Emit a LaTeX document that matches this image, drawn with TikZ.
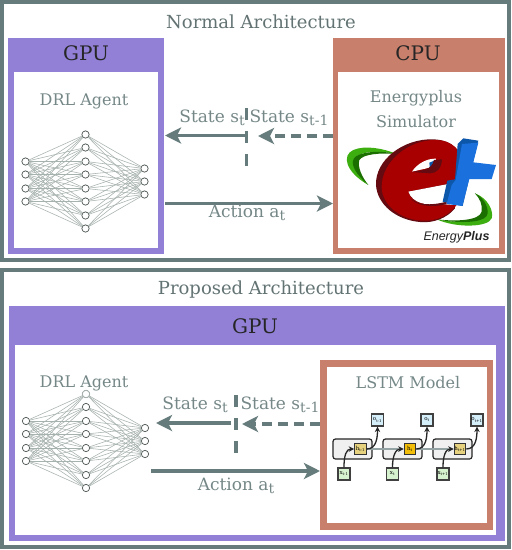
\documentclass[tikz,border=0pt]{standalone}
\usepackage{fontspec}
\setmainfont{DejaVu Serif}
\newfontfamily\lsans{Liberation Sans}
\usetikzlibrary{arrows.meta}
\definecolor{fr}{HTML}{667B7B}
\definecolor{txt}{HTML}{758787}
\definecolor{gpu}{HTML}{9180D6}
\definecolor{cpu}{HTML}{C87F6B}
\definecolor{edgec}{HTML}{A6B2AE}
\definecolor{nod}{HTML}{4A5450}
\definecolor{redf}{HTML}{A80000}
\definecolor{redd}{HTML}{640A10}
\definecolor{grl}{HTML}{3CAE10}
\definecolor{grd}{HTML}{1B6E00}
\definecolor{blf}{HTML}{1A70DC}
\definecolor{bld}{HTML}{0D57AB}
\definecolor{hy}{HTML}{E6D27E}
\definecolor{ho}{HTML}{F2BE0A}
\definecolor{ig}{HTML}{D6F2CE}
\definecolor{ob}{HTML}{D4EEFA}
\newcommand{\sub}[1]{\raisebox{-3pt}{\fontsize{14}{14}\selectfont #1}}
\tikzset{
 frame/.style={draw=fr,line width=4pt,fill=white},
 panel/.style={fill=#1},
 inner/.style={fill=white},
 ttl/.style={text=txt!85!black,font=\fontsize{18}{20}\selectfont,inner sep=0pt},
 lab/.style={text=txt,font=\fontsize{16}{18}\selectfont,inner sep=0pt},
 clab/.style={text=txt,font=\fontsize{17}{19}\selectfont,inner sep=0pt},
 head/.style={text=black!85,font=\fontsize{20}{22}\selectfont,inner sep=0pt},
 conn/.style={draw=fr,line width=3.4pt,-{Stealth[length=16pt,width=16pt,inset=4pt]}},
 dconn/.style={conn,dash pattern=on 10pt off 6pt},
 vdash/.style={draw=fr,line width=3.6pt,dash pattern=on 11.5pt off 11.5pt},
 neuron/.style={circle,draw=nod,fill=white,line width=.7pt,minimum size=7.3pt,inner sep=0pt},
 faint/.style={draw=edgec},
 wire/.style={draw=edgec,line width=.55pt},
 cell/.style={draw=black!85,line width=1.2pt,fill=black!6,rounded corners=2.5pt},
 hbox/.style={draw=black!80,line width=1.1pt,fill=#1,minimum size=11.5pt,inner sep=0pt,font=\fontsize{5.5}{6}\selectfont},
 ibox/.style={draw=black!75,line width=1.1pt,fill=#1,minimum size=12pt,inner sep=0pt,font=\fontsize{5.5}{6}\selectfont},
 flow/.style={draw=black!85,line width=1.3pt,-{Stealth[length=5.5pt,width=5.5pt]}},
 hflow/.style={draw=fr!70,line width=1.9pt},
}
\newcommand{\netw}[3]{%
 \foreach \y [count=\i] in {27,40,54,67}{\node[neuron] (#3l\i) at (#1+0,#2+\y) {};}
 \foreach \y [count=\i] in {0,13,27,40,54,67,81,94}{\node[neuron] (#3m\i) at (#1+60,#2+\y) {};}
 \foreach \y [count=\i] in {34,47,60}{\node[neuron] (#3r\i) at (#1+119,#2+\y) {};}
 \foreach \i in {1,...,8}{%
  \foreach \j in {1,...,4}{\draw[wire] (#3l\j) -- (#3m\i);}
  \foreach \j in {1,...,3}{\draw[wire] (#3m\i) -- (#3r\j);}
 }
}
\begin{document}
\begin{tikzpicture}[x=1pt,y=-1pt]
\useasboundingbox (0,0) rectangle (512,550);
\path[fill=white] (0,0) rectangle (512,550);
\path[frame] (2,2) rectangle (509,260);
\path[frame] (2,270) rectangle (509,547);
\node[ttl] (t1) at (261,22) {Normal Architecture};
\node[ttl] (t2) at (261,290) {Proposed Architecture};
% top panels
\path[panel=gpu] (8,38) rectangle (164,254);
\path[inner] (14,72) rectangle (158,248);
\path[panel=cpu] (333,38) rectangle (505,254);
\path[inner] (338,72) rectangle (499,248);
\node[head] (g1) at (86,53) {GPU};
\node[head] (c1) at (418,53) {CPU};
\node[lab] (d1) at (84,101) {DRL Agent};
\node[lab] (e1) at (416,98) {Energyplus};
\node[lab] (e2) at (416,122) {Simulator};
% bottom panels
\path[panel=gpu] (9,306) rectangle (505,541);
\path[inner] (15,345) rectangle (496,535);
\node[head] (g2) at (255,326) {GPU};
\path[panel=cpu] (320,360) rectangle (493,530);
\path[inner] (327,367) rectangle (487,523);
\node[lab] (d2) at (84,383) {DRL Agent};
\node[lab] (l1) at (408,383) {LSTM Model};
% networks
\netw{25.5}{134.5}{a}
\netw{26}{394}{b}
\node[neuron,faint] at (bm1) {};
% connectors
\coordinate (a1) at (246,135.5); \coordinate (a2) at (165,135.5);
\coordinate (a3) at (333,136); \coordinate (a4) at (258,136);
\coordinate (a5) at (165,203.5); \coordinate (a6) at (333,203.5);
\coordinate (a7) at (246.5,108); \coordinate (a8) at (246.5,166);
\draw[conn] (a1) -- (a2);
\draw[dconn] (a3) -- (a4);
\draw[conn] (a5) -- (a6);
\draw[vdash] (a7) -- (a8);
\coordinate (b1) at (231,423); \coordinate (b2) at (156,423);
\coordinate (b3) at (320,424); \coordinate (b4) at (242,424);
\coordinate (b5) at (151,471); \coordinate (b6) at (320,471);
\coordinate (b7) at (236,395); \coordinate (b8) at (236,453);
\draw[conn] (b1) -- (b2);
\draw[dconn] (b3) -- (b4);
\draw[conn] (b5) -- (b6);
\draw[vdash] (b7) -- (b8);
\node[clab] (s1) at (212,118) {State s\sub{t}};
\node[clab] (s2) at (289,118) {State s\sub{t-1}};
\node[clab] (s3) at (247,213) {Action a\sub{t}};
\node[clab] (s4) at (195,405) {State s\sub{t}};
\node[clab] (s5) at (280,405) {State s\sub{t-1}};
\node[clab] (s6) at (236,486) {Action a\sub{t}};
% logo
\begin{scope}[shift={(340,130)},x=.3333pt,y=-.3333pt]
 \path[fill=grl] (85,165) .. controls (15,125) and (5,75) .. (40,60) .. controls (75,45) and (130,55) .. (170,72) .. controls (120,62) and (60,62) .. (45,85) .. controls (40,110) and (60,140) .. (85,165) -- cycle;
 \path[fill=grd] (85,165) .. controls (50,135) and (30,105) .. (42,85) .. controls (55,65) and (120,60) .. (170,72) .. controls (120,68) and (70,72) .. (58,90) .. controls (52,110) and (65,140) .. (85,165) -- cycle;
 \path[fill=grl] (405,190) .. controls (445,205) and (462,245) .. (455,265) .. controls (445,292) and (350,295) .. (290,268) .. controls (350,280) and (430,280) .. (432,245) .. controls (432,225) and (420,205) .. (405,190) -- cycle;
 \path[fill=grd] (405,190) .. controls (435,205) and (450,240) .. (440,258) .. controls (425,280) and (350,280) .. (290,268) .. controls (350,275) and (418,272) .. (425,245) .. controls (428,225) and (420,205) .. (405,190) -- cycle;
 % e extrusion
 \path[fill=redd] (108,165) .. controls (105,90) and (190,25) .. (280,28) .. controls (340,30) and (365,65) .. (365,100) .. controls (365,130) and (345,155) .. (330,165) -- (345,235) .. controls (320,265) and (280,280) .. (240,276) .. controls (170,270) and (112,225) .. (108,165) -- cycle;
 % e front
 \path[fill=redf] (125,170) .. controls (125,95) and (205,30) .. (285,30) .. controls (340,30) and (366,65) .. (366,100) .. controls (366,125) and (350,150) .. (330,160) -- (205,185) .. controls (210,205) and (225,218) .. (255,222) .. controls (290,225) and (320,222) .. (352,222) .. controls (330,255) and (290,275) .. (245,272) .. controls (180,268) and (125,225) .. (125,170) -- cycle;
 % openings
 \path[fill=white] (205,185) -- (335,160) -- (340,225) -- (300,222) .. controls (260,228) and (218,220) .. (205,185) -- cycle;
 \path[fill=redd] (212,205) .. controls (225,225) and (270,235) .. (320,222) -- (320,215) .. controls (270,228) and (232,225) .. (212,205) -- cycle;
 \path[fill=white] (216,125) .. controls (232,100) and (262,85) .. (288,86) -- (282,110) -- (216,125) -- cycle;
 \path[fill=bld] (268,98) -- (288,90) -- (284,115) -- (270,118) -- cycle;
 \path[fill=redd] (215,126) .. controls (245,120) and (275,122) .. (282,90) -- (306,88) .. controls (305,115) and (290,130) .. (270,130) -- cycle;
 % plus
 \path[fill=bld] (308,215) -- (322,152) -- (345,148) -- (353,42) -- (370,25) -- (415,32) -- (412,42) -- (368,228) -- cycle;
 \path[fill=blf] (366,42) -- (415,38) -- (400,97) -- (468,105) -- (455,147) -- (388,147) -- (367,228) -- (320,222) -- (335,165) -- (347,150) -- cycle;
\end{scope}
\node[inner sep=0pt,font=\lsans\itshape\fontsize{12.5}{13}\selectfont,text=black!85] (ep) at (456.5,237.5) {Energy\textbf{Plus}};
% LSTM
\node[cell,minimum width=39pt,minimum height=20pt,inner sep=0pt] (c1a) at (352.5,449) {};
\node[cell,minimum width=39pt,minimum height=20pt,inner sep=0pt] (c2a) at (402.5,449) {};
\node[cell,minimum width=39pt,minimum height=20pt,inner sep=0pt] (c3a) at (452.5,449) {};
\node[hbox=hy] (h1) at (360.5,449) {h\textsubscript{t-1}};
\node[hbox=ho] (h2) at (410,449) {h\textsubscript{t}};
\node[hbox=hy] (h3) at (460,449) {h\textsubscript{t+1}};
\node[ibox=ig] (x1) at (344,474) {x\textsubscript{t-1}};
\node[ibox=ig] (x2) at (392.5,474) {x\textsubscript{t}};
\node[ibox=ig] (x3) at (443,474) {x\textsubscript{t+1}};
\node[ibox=ob] (o1) at (377.5,420) {o\textsubscript{t-1}};
\node[ibox=ob] (o2) at (427,420) {o\textsubscript{t}};
\node[ibox=ob] (o3) at (477,420) {o\textsubscript{t+1}};
\draw[hflow,-{Stealth[length=5pt,width=5pt]}] (h1) -- (h2);
\draw[hflow,-{Stealth[length=5pt,width=5pt]}] (h2) -- (h3);
\draw[flow] (x1.north) .. controls +(0,-12) and +(-8,0) .. (h1.west);
\draw[flow] (x2.north) .. controls +(0,-12) and +(-8,0) .. (h2.west);
\draw[flow] (x3.north) .. controls +(0,-12) and +(-8,0) .. (h3.west);
\draw[flow] (h1.east) .. controls +(10,0) and +(0,10) .. (o1.south);
\draw[flow] (h2.east) .. controls +(10,0) and +(0,10) .. (o2.south);
\draw[flow] (h3.east) .. controls +(10,0) and +(0,10) .. (o3.south);
\end{tikzpicture}
\end{document}
